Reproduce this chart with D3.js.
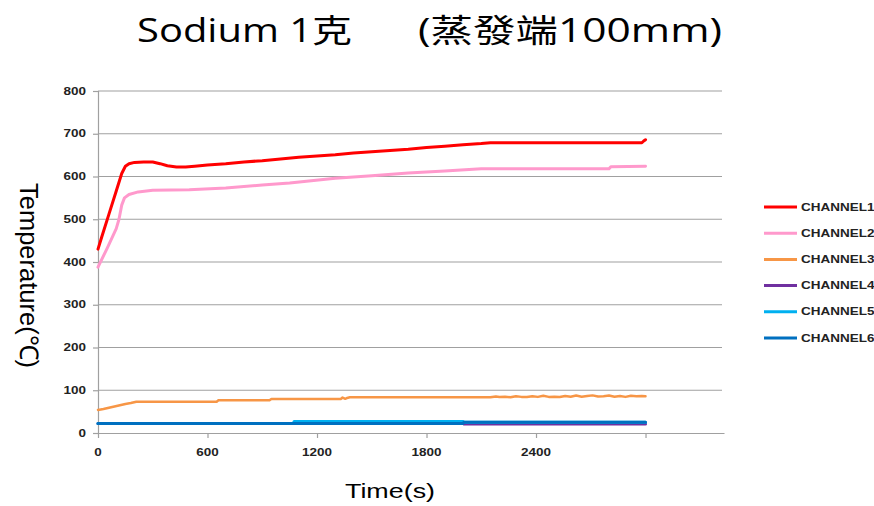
<!DOCTYPE html>
<html>
<head>
<meta charset="utf-8">
<script src="https://cdn.jsdelivr.net/npm/d3@7"></script>
<style>
  html, body { margin: 0; padding: 0; background: #fff; }
  svg { display: block; }
</style>
</head>
<body>
<svg id="chart" width="874" height="506"></svg>
<script>
// ---------------- data ----------------
const titleLeft = "Sodium 1克";
const titleRight = "(蒸發端100mm)";
const xLabel = "Time(s)";
const yLabel = "Temperature(℃)";
const seriesNames = ["CHANNEL1", "CHANNEL2", "CHANNEL3", "CHANNEL4", "CHANNEL5", "CHANNEL6"];
const seriesColors = ["#FF0000", "#FF99CC", "#F79646", "#7030A0", "#00B0F0", "#0070C0"];
const xTicks = [0, 600, 1200, 1800, 2400, 3000];
const xTickLabels = ["0", "600", "1200", "1800", "2400", ""];
const yTicks = [0, 100, 200, 300, 400, 500, 600, 700, 800];

const ch1Time = [0, 20, 60, 100, 130, 150, 170, 200, 250, 300, 340, 380, 430, 480, 530, 600, 700, 800, 900, 1000, 1100, 1200, 1300, 1400, 1500, 1600, 1700, 1800, 1900, 2000, 2100, 2150, 2500, 2900, 2980, 2990, 3000];
const ch1Temp = [430, 458, 512, 566, 607, 624, 630, 633, 634, 634, 630, 625, 622, 622, 624, 627, 630, 634, 637, 641, 645, 648, 651, 655, 658, 661, 664, 668, 671, 674, 677, 679, 679, 679, 679, 683, 686];

const ch2Time = [0, 50, 100, 115, 130, 145, 170, 220, 300, 500, 700, 900, 1050, 1300, 1500, 1700, 1900, 2100, 2800, 2810, 3000];
const ch2Temp = [388, 432, 478, 500, 533, 550, 558, 564, 568, 569, 573, 580, 585, 596, 602, 608, 613, 618, 618, 623, 624];

const ch3Time = [0, 30, 60, 90, 120, 150, 180, 210, 650, 660, 940, 950, 1330, 1340, 1355, 1365, 1380, 2150, 2180, 2200, 2230, 2260, 2290, 2320, 2350, 2380, 2410, 2440, 2470, 2500, 2530, 2560, 2590, 2620, 2650, 2680, 2710, 2740, 2770, 2800, 2830, 2860, 2890, 2920, 2950, 2980, 3000];
const ch3Temp = [54, 56, 59, 62, 65, 68, 70, 73, 73, 76.5, 76.5, 79.5, 79.5, 83, 80, 82, 83.5, 83.5, 85.5, 84, 85, 83.5, 86, 84.5, 84, 86, 84.5, 87, 84.5, 85, 84, 86.5, 85, 87.5, 85, 86.5, 88, 85.5, 86, 87.5, 85, 86.5, 84.5, 87, 86, 86.5, 86];

const ch4Time = [0, 2000, 2005, 3000];
const ch4Temp = [22.5, 22.5, 21, 21];

const ch5Time = [0, 1070, 1075, 2000, 2005, 3000];
const ch5Temp = [22.5, 22.5, 27, 27, 25, 25];

const ch6Time = [0, 2000, 2005, 3000];
const ch6Temp = [22.5, 22.5, 25, 25];

const seriesTimes = [ch1Time, ch2Time, ch3Time, ch4Time, ch5Time, ch6Time];
const seriesTemps = [ch1Temp, ch2Temp, ch3Temp, ch4Temp, ch5Temp, ch6Temp];

// ---------------- layout ----------------
const svg = d3.select("#chart");
const plot = { left: 98, right: 724, top: 91, bottom: 433 };
const SX = 1.35; // horizontal stretch of the original picture's text

const x = d3.scaleLinear().domain([0, 3430]).range([plot.left, plot.right]);
const y = d3.scaleLinear().domain([0, 800]).range([plot.bottom, plot.top]);

const gridColor = "#A0A0A0";
const textFont = "'Liberation Sans', Arial, sans-serif";

// gridlines
svg.append("g")
  .selectAll("line")
  .data(yTicks.filter(d => d > 0))
  .join("line")
  .attr("x1", plot.left).attr("x2", plot.right - 2)
  .attr("y1", d => y(d)).attr("y2", d => y(d))
  .attr("stroke", gridColor).attr("stroke-width", 1.2);

// y axis
const yAxis = svg.append("g")
  .attr("transform", `translate(${plot.left},0)`)
  .call(d3.axisLeft(y).tickValues(yTicks).tickSize(5).tickFormat(""));
yAxis.select(".domain").attr("stroke", gridColor).attr("stroke-width", 1.2);
yAxis.selectAll(".tick line").attr("stroke", gridColor).attr("stroke-width", 1.2);

// x axis
const xAxis = svg.append("g")
  .attr("transform", `translate(0,${plot.bottom})`)
  .call(d3.axisBottom(x).tickValues(xTicks).tickSize(5).tickSizeOuter(0).tickFormat(""));
xAxis.select(".domain").attr("stroke", gridColor).attr("stroke-width", 1.2);
xAxis.selectAll(".tick line").attr("stroke", gridColor).attr("stroke-width", 1.2);

// tick labels (stretched like the source)
svg.append("g").selectAll("text")
  .data(yTicks)
  .join("text")
  .attr("transform", d => `translate(86,${y(d) + 3.5}) scale(${SX},1)`)
  .attr("text-anchor", "end")
  .attr("font-family", textFont)
  .attr("font-size", 10)
  .attr("font-weight", "bold")
  .attr("fill", "#222")
  .text(d => d);

svg.append("g").selectAll("text")
  .data(xTicks)
  .join("text")
  .attr("transform", (d, i) => `translate(${x(d)},${plot.bottom + 23}) scale(${SX},1)`)
  .attr("text-anchor", "middle")
  .attr("font-family", textFont)
  .attr("font-size", 10)
  .attr("font-weight", "bold")
  .attr("fill", "#222")
  .text((d, i) => xTickLabels[i]);

// series lines
const line = d3.line().x(d => x(d[0])).y(d => y(d[1]));
const widths = [3, 3, 2.5, 3, 3, 3];
seriesTimes.forEach((ts, i) => {
  const pts = ts.map((t, j) => [t, seriesTemps[i][j]]);
  svg.append("path")
    .datum(pts)
    .attr("d", line)
    .attr("fill", "none")
    .attr("stroke", seriesColors[i])
    .attr("stroke-width", widths[i])
    .attr("stroke-linejoin", "round")
    .attr("stroke-linecap", "round");
});

// legend
const legend = svg.append("g");
const legY0 = 207, legStep = 26.2;
seriesNames.forEach((name, i) => {
  const ly = legY0 + i * legStep;
  legend.append("line")
    .attr("x1", 764).attr("x2", 797)
    .attr("y1", ly).attr("y2", ly)
    .attr("stroke", seriesColors[i]).attr("stroke-width", 3);
  legend.append("text")
    .attr("transform", `translate(801,${ly + 3.5}) scale(${SX},1)`)
    .attr("font-family", textFont)
    .attr("font-size", 10)
    .attr("font-weight", "bold")
    .attr("fill", "#222")
    .text(name);
});

// titles
const titleFont = "'Open Sans', 'Noto Sans CJK TC', sans-serif";
svg.append("text")
  .attr("x", 137).attr("y", 42)
  .attr("font-family", titleFont)
  .attr("font-size", 32)
  .attr("fill", "#000")
  .attr("textLength", 215)
  .attr("lengthAdjust", "spacingAndGlyphs")
  .text(titleLeft);
svg.append("text")
  .attr("x", 418).attr("y", 42)
  .attr("font-family", titleFont)
  .attr("font-size", 32)
  .attr("fill", "#000")
  .attr("textLength", 304)
  .attr("lengthAdjust", "spacingAndGlyphs")
  .text(titleRight);

// axis titles
svg.append("text")
  .attr("x", 345).attr("y", 498)
  .attr("font-family", textFont)
  .attr("font-size", 21)
  .attr("fill", "#000")
  .attr("textLength", 90)
  .attr("lengthAdjust", "spacingAndGlyphs")
  .text(xLabel);

svg.append("text")
  .attr("transform", `translate(20,183) scale(${SX},1) rotate(90)`)
  .attr("font-family", textFont)
  .attr("font-size", 19)
  .attr("fill", "#000")
  .attr("textLength", 185)
  .attr("lengthAdjust", "spacingAndGlyphs")
  .text(yLabel);
</script>
</body>
</html>
